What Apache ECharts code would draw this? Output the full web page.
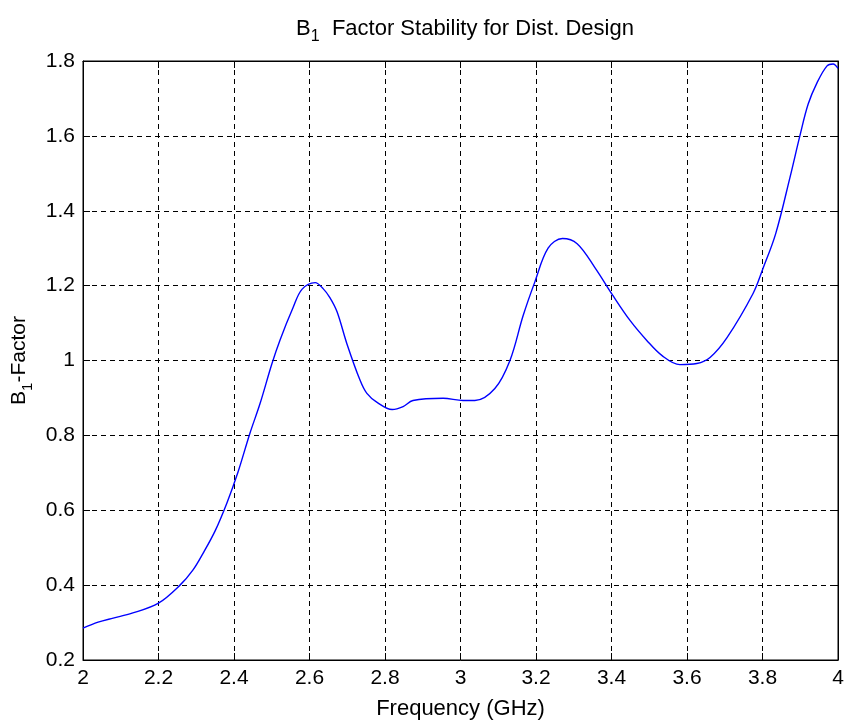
<!DOCTYPE html>
<html>
<head>
<meta charset="utf-8">
<script src="https://cdn.jsdelivr.net/npm/echarts@6/dist/echarts.min.js"></script>
<style>
  html, body { margin: 0; padding: 0; background: #fff; }
  #c1 { width: 847px; height: 720px; }
</style>
</head>
<body>
<div id="c1"></div>
<script>
var chart = echarts.init(document.getElementById('c1'));

// frequency (GHz) and B1 factor
var freq = [2.0, 2.04, 2.08, 2.13, 2.2, 2.257, 2.291, 2.318, 2.35, 2.381, 2.41, 2.442, 2.469, 2.5, 2.522, 2.556, 2.58, 2.615, 2.636, 2.654, 2.673, 2.699, 2.734, 2.752, 2.779, 2.819, 2.848, 2.874, 2.954, 3.007, 3.038, 3.091, 3.131, 3.166, 3.197, 3.232, 3.27, 3.309, 3.356, 3.404, 3.449, 3.494, 3.534, 3.581, 3.626, 3.661, 3.706, 3.775, 3.801, 3.835, 3.873, 3.899, 3.921, 3.944, 3.971, 3.987, 4.0];
var b1 = [0.285, 0.301, 0.312, 0.325, 0.352, 0.4, 0.44, 0.485, 0.545, 0.619, 0.7, 0.805, 0.885, 0.99, 1.055, 1.14, 1.19, 1.208, 1.192, 1.168, 1.13, 1.045, 0.947, 0.912, 0.888, 0.869, 0.877, 0.893, 0.899, 0.893, 0.893, 0.925, 1.0, 1.12, 1.21, 1.3, 1.326, 1.312, 1.248, 1.173, 1.107, 1.053, 1.013, 0.989, 0.992, 1.008, 1.061, 1.179, 1.245, 1.339, 1.49, 1.6, 1.685, 1.741, 1.787, 1.792, 1.78];

var pts = [];
for (var i = 0; i < freq.length; i++) pts.push([freq[i], b1[i]]);

var font = 'Liberation Sans, Arial, sans-serif';
var dashGrid = { show: true, lineStyle: { color: '#000', type: [5, 4], width: 1 } };
var rich = {
  b: { fontFamily: font, fontSize: 21, fontWeight: 'normal', color: '#000' },
  s: { fontFamily: font, fontSize: 15, fontWeight: 'normal', color: '#000', verticalAlign: 'bottom', padding: [16, 0, 0, 0] }
};
var titleRich = {
  b: { fontFamily: font, fontSize: 22, fontWeight: 'normal', color: '#000' },
  s: { fontFamily: font, fontSize: 16, fontWeight: 'normal', color: '#000', verticalAlign: 'bottom', padding: [16, 0, 0, 0] }
};

var option = {
  animation: false,
  backgroundColor: '#fff',
  title: {
    text: '{b|B}{s|1}{b|  Factor Stability for Dist. Design}',
    left: 460, top: 8, textAlign: 'center',
    textStyle: { fontWeight: 'normal', rich: titleRich }
  },
  grid: { left: 83, right: 9, top: 61, bottom: 60, outerBoundsMode: 'none',
    show: true, borderColor: '#000', borderWidth: 1 },
  xAxis: [{
    type: 'value', min: 2, max: 4, interval: 0.2,
    name: 'Frequency (GHz)', nameLocation: 'middle', nameGap: 38,
    nameTextStyle: { fontFamily: font, fontSize: 22, color: '#000' },
    axisLine: { show: true, lineStyle: { color: '#000' } },
    axisTick: { show: true, inside: true, length: 7, lineStyle: { color: '#000' } },
    axisLabel: { fontFamily: font, fontSize: 21, color: '#000', margin: 8,
      formatter: function (v) { return String(+v.toFixed(1)); } },
    splitLine: dashGrid
  }, {
    type: 'value', position: 'top', min: 2, max: 4, interval: 0.2,
    axisLine: { show: true, lineStyle: { color: '#000' } },
    axisTick: { show: true, inside: true, length: 7, lineStyle: { color: '#000' } },
    axisLabel: { show: false }, splitLine: { show: false }
  }],
  yAxis: [{
    type: 'value', min: 0.2, max: 1.8, interval: 0.2,
    name: '{b|B}{s|1}{b|-Factor}', nameLocation: 'middle', nameGap: 48,
    nameTextStyle: { rich: rich },
    axisLine: { show: true, lineStyle: { color: '#000' } },
    axisTick: { show: true, inside: true, length: 7, lineStyle: { color: '#000' } },
    axisLabel: { fontFamily: font, fontSize: 21, color: '#000', margin: 8,
      formatter: function (v) { return String(+v.toFixed(1)); } },
    splitLine: dashGrid
  }, {
    type: 'value', position: 'right', min: 0.2, max: 1.8, interval: 0.2,
    axisLine: { show: true, lineStyle: { color: '#000' } },
    axisTick: { show: true, inside: true, length: 7, lineStyle: { color: '#000' } },
    axisLabel: { show: false }, splitLine: { show: false }
  }],
  series: [{
    type: 'line',
    data: pts,
    smooth: 0.35,
    symbol: 'none',
    lineStyle: { color: '#0000ff', width: 1.4 }
  }]
};
chart.setOption(option);
</script>
</body>
</html>
